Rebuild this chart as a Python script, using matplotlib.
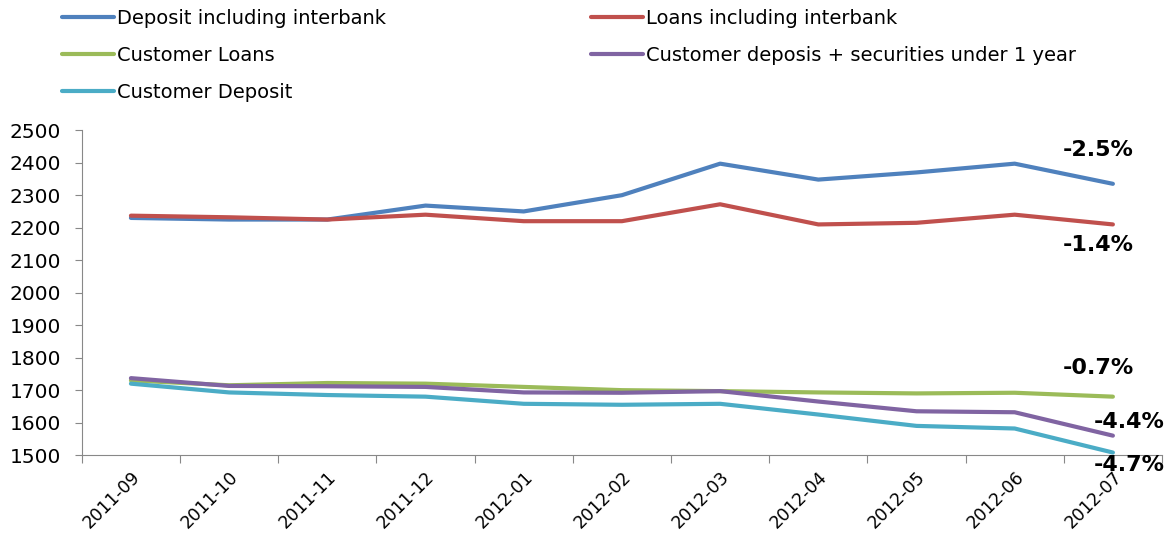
import matplotlib.pyplot as plt
import numpy as np

months = ['2011-09', '2011-10', '2011-11', '2011-12', '2012-01', '2012-02',
          '2012-03', '2012-04', '2012-05', '2012-06', '2012-07']

deposit_interbank = [2230, 2225, 2225, 2268, 2250, 2300, 2397, 2348, 2370, 2397, 2335]
loans_interbank = [2237, 2232, 2225, 2240, 2220, 2220, 2272, 2210, 2215, 2240, 2210]
customer_loans = [1730, 1715, 1722, 1720, 1710, 1700, 1697, 1693, 1690, 1692, 1680]
customer_dep_sec = [1737, 1713, 1712, 1710, 1693, 1692, 1697, 1665, 1635, 1632, 1560]
customer_deposit = [1720, 1693, 1685, 1680, 1658, 1655, 1658, 1625, 1590, 1582, 1508]

series_names = ['Deposit including interbank', 'Loans including interbank',
                'Customer Loans', 'Customer deposis + securities under 1 year',
                'Customer Deposit']
series_colors = ['#4F81BD', '#C0504D', '#9BBB59', '#8064A2', '#4BACC6']

# change labels shown at the right end
change_labels = ['-2.5%', '-1.4%', '-0.7%', '-4.4%', '-4.7%']
label_pos = [(9.85, 2438), (9.85, 2146), (9.85, 1768), (10.17, 1602), (10.17, 1469)]

fig = plt.figure(figsize=(11.69, 5.38), dpi=100)
ax = fig.add_axes([0.070, 0.154, 0.924, 0.604])

x = np.arange(len(months))
all_series = [deposit_interbank, loans_interbank, customer_loans,
              customer_dep_sec, customer_deposit]
handles = []
for vals, name, col in zip(all_series, series_names, series_colors):
    h, = ax.plot(x, vals, color=col, linewidth=3, label=name, solid_capstyle='round')
    handles.append(h)

for txt, (tx, ty) in zip(change_labels, label_pos):
    ax.text(tx, ty, txt, ha='center', va='center', fontsize=16,
            fontweight='bold', clip_on=False)

ax.set_xlim(-0.5, len(months) - 0.5)
ax.set_ylim(1500, 2500)
ax.set_yticks(np.arange(1500, 2501, 100))

# category axis: tick marks between months, labels under each month
ax.set_xticks(np.arange(-0.5, len(months), 1))
ax.set_xticklabels([])
ax.set_xticks(x, minor=True)
ax.set_xticklabels(months, minor=True, rotation=45, ha='right',
                   rotation_mode='anchor', fontsize=12.5)
ax.tick_params(axis='x', which='minor', length=0, pad=9)
ax.tick_params(axis='x', which='major', length=6, color='#888888')
ax.tick_params(axis='y', length=5, color='#888888', labelsize=14.5, pad=10)

for side in ['top', 'right']:
    ax.spines[side].set_visible(False)
for side in ['left', 'bottom']:
    ax.spines[side].set_color('#888888')

# legend reads row by row, matplotlib fills by column -> reorder
order = [0, 2, 4, 1, 3]
fig.legend([handles[i] for i in order], [series_names[i] for i in order],
           loc='upper left', bbox_to_anchor=(0.038, 1.016), ncol=2,
           frameon=False, fontsize=14, handlelength=2.7,
           handletextpad=0.15, columnspacing=10.5, labelspacing=0.92)

fig.savefig('out.png', dpi=100)
